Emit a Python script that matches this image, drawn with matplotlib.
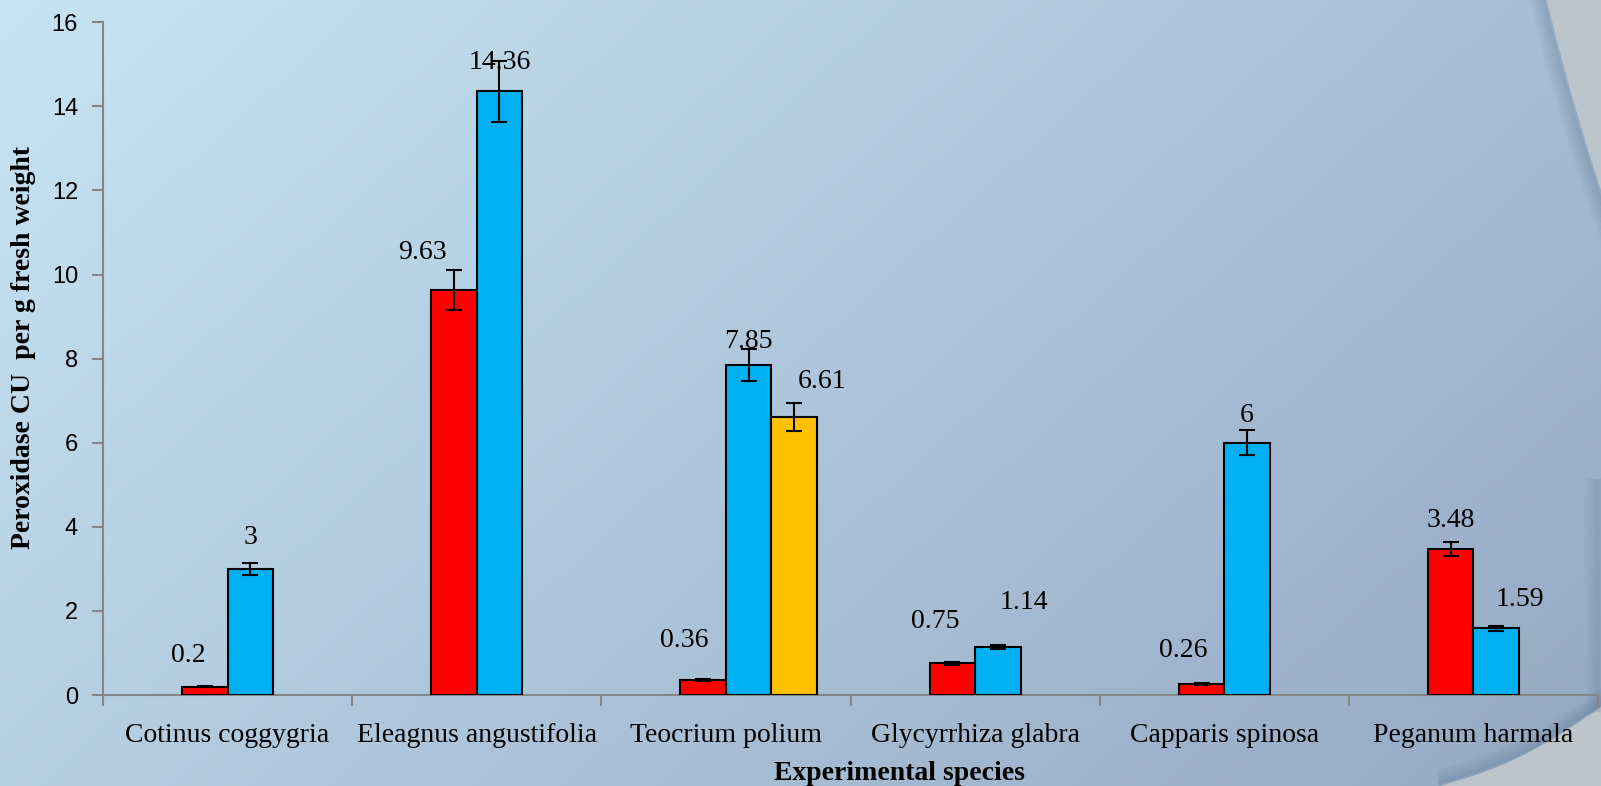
import numpy as np
import matplotlib
matplotlib.use("Agg")
import matplotlib.pyplot as plt
from matplotlib.patches import Polygon

# data
species = ["Cotinus coggygria", "Eleagnus angustifolia", "Teocrium polium",
           "Glycyrrhiza glabra", "Capparis spinosa", "Peganum harmala"]
red_vals = [0.2, 9.63, 0.36, 0.75, 0.26, 3.48]
red_err = [0.02, 0.48, 0.02, 0.03, 0.02, 0.17]
blue_vals = [3, 14.36, 7.85, 1.14, 6, 1.59]
blue_err = [0.15, 0.72, 0.39, 0.05, 0.3, 0.06]
yellow_vals = [None, None, 6.61, None, None, None]
yellow_err = [None, None, 0.33, None, None, None]

# label offsets in pixels (dx, dy above bar top)
red_off = [(-17, 31), (-32, 38), (-19, 39), (-17, 42), (-18, 34), (0, 28)]
blue_off = [(0, 31), (0, 29), (0, 23), (26, 45), (0, 27), (24, 29)]
yellow_off = [None, None, (28, 36), None, None, None]

W, H = 1601, 786
fig = plt.figure(figsize=(W / 100, H / 100), dpi=100)

# background gradient
bg = fig.add_axes([0, 0, 1, 1], zorder=-10)
bg.set_xlim(0, W)
bg.set_ylim(H, 0)
bg.axis("off")
yy, xx = np.mgrid[0:H, 0:W]
t = (xx / W * 0.65 + yy / H * 0.35)
c0 = np.array([200, 228, 244]) / 255
c1 = np.array([148, 168, 194]) / 255
img = c0[None, None, :] * (1 - t[..., None]) + c1[None, None, :] * t[..., None]
bg.imshow(img, extent=(0, W, H, 0), aspect="auto")

shade = "#56708a"
grey = "#bcc4cc"
# top right swoosh
ty = np.linspace(-5, 330, 300)
tx = 1547 + 0.2392 * ty + 0.000237 * ty ** 2
for k, a in zip(range(16, 0, -2), np.linspace(0.03, 0.2, 8)):
    bg.plot(tx - k, ty, color=shade, lw=2.5, alpha=a)
sel = ty < 200
bg.add_patch(Polygon(list(zip(tx[sel], ty[sel])) + [(W + 5, 200), (W + 5, -5)],
                     closed=True, color=grey, lw=0))
# bottom right swoosh
bx = np.linspace(1440, W + 5, 100)
u = (bx - 1440) / (W - 1440)
by = 786 - u * 79 + 10 * np.sin(u * np.pi)
for k, a in zip(range(16, 0, -2), np.linspace(0.03, 0.2, 8)):
    bg.plot(bx, by - k, color=shade, lw=2.5, alpha=a)
ry = np.linspace(480, 710, 80)
for k, a in zip(range(14, 0, -2), np.linspace(0.03, 0.16, 7)):
    bg.plot(np.full_like(ry, W - k), ry, color=shade, lw=2.5, alpha=a)
bg.add_patch(Polygon(list(zip(bx, by)) + [(W + 5, H + 5), (1440, H + 5)],
                     closed=True, color=grey, lw=0))

# main axes
left, right, bottom, top = 103 / W, 1598 / W, 1 - 695 / H, 1 - 22.3 / H
ax = fig.add_axes([left, bottom, right - left, top - bottom])
ax.patch.set_alpha(0)

w = 0.1826
n = len(species)
series = [(red_vals, red_err, red_off, "#ff0000", 1),
          (blue_vals, blue_err, blue_off, "#00b0f0", 2),
          (yellow_vals, yellow_err, yellow_off, "#ffc000", 3)]
for vals, errs, offs, col, slot in series:
    for i in range(n):
        if vals[i] is None:
            continue
        x = i + 0.5 + (slot - 1.5) * w
        ax.bar(x, vals[i], width=w, color=col, edgecolor="black", lw=1.5, zorder=3)
        ax.errorbar(x, vals[i], yerr=errs[i], color="black", capsize=6,
                    elinewidth=1.5, capthick=1.5, zorder=4)
        ax.annotate(f"{vals[i]:g}", (x, vals[i]), xytext=offs[i],
                    textcoords="offset pixels", ha="center", va="center",
                    fontsize=20, family="Liberation Serif", zorder=5)

ax.set_xlim(0, n)
ax.set_ylim(0, 16)
ax.set_yticks(range(0, 17, 2))
ax.set_xticks(range(0, n + 1))
ax.set_xticklabels([])
ax.set_xticks(np.arange(n) + 0.5, minor=True)
ax.set_xticklabels(species, minor=True, fontsize=20, family="Liberation Serif")
ax.tick_params(axis="x", which="minor", length=0, pad=20)
ax.tick_params(axis="x", which="major", length=8, width=1.5, color="#868686")
ax.tick_params(axis="y", length=8, width=1.5, color="#868686", pad=10)
for lab in ax.get_yticklabels():
    lab.set_fontsize(17)
    lab.set_family("Liberation Sans")
for s in ["top", "right"]:
    ax.spines[s].set_visible(False)
for s in ["left", "bottom"]:
    ax.spines[s].set_color("#868686")
    ax.spines[s].set_linewidth(1.5)

ax.set_ylabel("Peroxidase CU  per g fresh weight", fontsize=20,
              family="Liberation Serif", fontweight="bold", va="center")
ax.yaxis.set_label_coords(-0.053, 0.516)
ax.set_xlabel("Experimental species", fontsize=20,
              family="Liberation Serif", fontweight="bold", va="center")
ax.xaxis.set_label_coords(0.533, -0.116)

fig.savefig("out.png", dpi=100)
